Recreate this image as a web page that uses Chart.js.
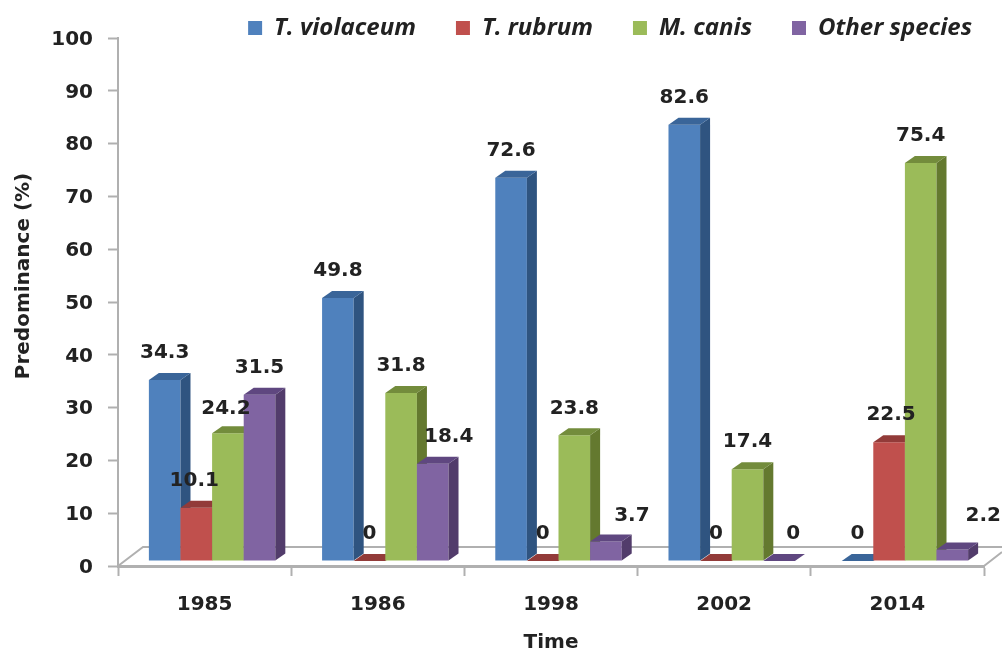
<!DOCTYPE html>
<html>
<head>
<meta charset="utf-8">
<style>
  html, body { margin: 0; padding: 0; background: #fff; overflow: hidden; }
  #chart { display: block; filter: blur(0.6px); }
</style>
<script src="https://cdn.jsdelivr.net/npm/chart.js@4"></script>
</head>
<body>
<canvas id="chart" width="1002" height="655"></canvas>
<script>
const years = ['1985', '1986', '1998', '2002', '2014'];
const violaceum = [34.3, 49.8, 72.6, 82.6, 0];
const rubrum = [10.1, 0, 0, 0, 22.5];
const canis = [24.2, 31.8, 23.8, 17.4, 75.4];
const other = [31.5, 18.4, 3.7, 0, 2.2];

const textColor = '#222222';
const axisColor = '#b0b0b0';
const tickFont = { family: 'DejaVu Sans', weight: 'bold', size: 20 };

// front, side and top colour of each series
const faces = [
    ['#4f81bd', '#2f5480', '#3a6599'],
    ['#c0504d', '#7d2f2d', '#923b39'],
    ['#9bbb59', '#64792f', '#738c3c'],
    ['#8064a2', '#523c6b', '#5f4780']
];

// the 3d look: bars sit in front of the axis and have depth
const shiftX = 7.5, shiftY = -5;
const depthX = 10, depthY = -7;

// labels Excel pushed off their bars: "series,year": [dx, dy]
const labelNudge = {
    '1,0': [-2, 0], '1,4': [2, 0], '2,0': [-2, 3],
    '3,1': [16, 0], '3,2': [26, 1], '3,3': [14, 0], '3,4': [31, -7]
};

const drawFaces = (ctx, meta, colors) => {
    meta.data.forEach(bar => {
        const p = bar.getProps(['x', 'y', 'base', 'width'], true);
        const left = p.x - p.width / 2;
        const right = p.x + p.width / 2;
        ctx.fillStyle = colors[1];
        ctx.beginPath();
        ctx.moveTo(right, p.y);
        ctx.lineTo(right + depthX, p.y + depthY);
        ctx.lineTo(right + depthX, p.base + depthY);
        ctx.lineTo(right, p.base);
        ctx.closePath();
        ctx.fill();
        ctx.fillStyle = colors[2];
        ctx.beginPath();
        ctx.moveTo(left, p.y);
        ctx.lineTo(left + depthX, p.y + depthY);
        ctx.lineTo(right + depthX, p.y + depthY);
        ctx.lineTo(right, p.y);
        ctx.closePath();
        ctx.fill();
    });
};

const bars3d = {
    id: 'bars3d',
    afterLayout(chart) {
        // legend draws at top + padding, so top goes above the canvas
        chart.legend.top = -24;
        chart.legend.bottom = 50;
        chart.legend.right = 1012;
    },
    beforeDatasetsDraw(chart) {
        const { ctx, chartArea: a } = chart;
        // floor of the 3d box
        ctx.save();
        ctx.strokeStyle = axisColor;
        ctx.lineWidth = 2;
        ctx.beginPath();
        ctx.moveTo(a.left, a.bottom);
        ctx.lineTo(a.left + 25, a.bottom - 19);
        ctx.lineTo(1002, a.bottom - 19);
        ctx.moveTo(a.right, a.bottom);
        ctx.lineTo(1002, a.bottom - 14);
        ctx.stroke();
        ctx.restore();

        // first series has to be painted first so the next one covers its side
        ctx.save();
        ctx.translate(shiftX, shiftY);
        chart.data.datasets.forEach((ds, s) => {
            const meta = chart.getDatasetMeta(s);
            meta.controller.draw();
            drawFaces(ctx, meta, faces[s]);
        });
        ctx.restore();
    },
    beforeDatasetDraw() {
        return false;
    },
    afterDatasetsDraw(chart) {
        const { ctx } = chart;
        // value labels go over every bar
        ctx.save();
        ctx.font = 'bold 20px "DejaVu Sans"';
        ctx.fillStyle = textColor;
        ctx.textAlign = 'center';
        ctx.textBaseline = 'middle';
        chart.data.datasets.forEach((ds, s) => {
            chart.getDatasetMeta(s).data.forEach((bar, i) => {
                const nudge = labelNudge[s + ',' + i] || [0, 0];
                const p = bar.getProps(['x', 'y'], true);
                ctx.fillText(String(ds.data[i]), p.x + shiftX + nudge[0], p.y + shiftY - 27 + nudge[1]);
            });
        });
        // y title sits above the middle of the axis in the original
        ctx.translate(24, 276);
        ctx.rotate(-Math.PI / 2);
        ctx.fillText('Predominance (%)', 0, 0);
        ctx.restore();
    }
};

const makeSet = (label, data, s) => ({
    label: label,
    data: data,
    backgroundColor: faces[s][0],
    borderWidth: 0,
    categoryPercentage: 0.73,
    barPercentage: 1
});

new Chart(document.getElementById('chart'), {
    type: 'bar',
    data: {
        labels: years,
        datasets: [
            makeSet('T. violaceum', violaceum, 0),
            makeSet('T. rubrum', rubrum, 1),
            makeSet('M. canis', canis, 2),
            makeSet('Other species', other, 3)
        ]
    },
    options: {
        responsive: false,
        animation: false,
        layout: { padding: { top: 18, right: 18, bottom: 0, left: 0 } },
        plugins: {
            tooltip: { enabled: false },
            legend: {
                position: 'top',
                align: 'end',
                maxHeight: 20,
                labels: {
                    boxWidth: 14,
                    boxHeight: 14,
                    padding: 40,
                    color: textColor,
                    font: { family: 'Open Sans', weight: 'bold', style: 'italic', size: 24 }
                }
            }
        },
        scales: {
            x: {
                grid: { drawOnChartArea: false, color: axisColor, tickLength: 10, tickWidth: 2 },
                border: { color: axisColor, width: 3 },
                ticks: { color: textColor, font: tickFont, padding: 17, maxRotation: 0 },
                title: { display: true, text: 'Time', color: textColor, font: { family: 'DejaVu Sans', weight: 'bold', size: 20 }, padding: { top: 15, bottom: 0 } },
                afterFit(scale) { scale.height = 89; }
            },
            y: {
                min: 0,
                max: 100,
                grid: { drawOnChartArea: false, color: axisColor, tickLength: 10, tickWidth: 2 },
                border: { color: axisColor, width: 2 },
                ticks: { stepSize: 10, color: textColor, font: tickFont, padding: 15, labelOffset: 1.5 },
                afterFit(scale) { scale.width = 118; }
            }
        }
    },
    plugins: [bars3d]
});
</script>
</body>
</html>
